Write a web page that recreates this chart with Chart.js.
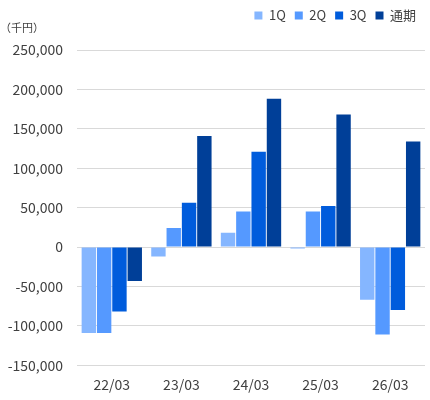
<!DOCTYPE html>
<html>
<head>
  <title>Chart</title>
  <script src="https://cdn.jsdelivr.net/npm/chart.js"></script>
  <style>
    html, body { margin: 0; padding: 0; background: #fff; }
    #wrap { width: 430px; height: 400px; }
  </style>
</head>
<body>
  <div id="wrap"><canvas id="chart"></canvas></div>
  <script>
    const labels = ['22/03', '23/03', '24/03', '25/03', '26/03'];
    const q1 = [-109000, -12000, 18000, -2000, -67000];
    const q2 = [-109000, 24000, 45000, 45000, -111000];
    const q3 = [-82000, 56000, 121000, 52000, -80000];
    const full = [-43000, 141000, 188000, 168000, 134000];
    const seriesNames = ['1Q', '2Q', '3Q', '通期'];
    const colors = ['#85B6FF', '#5599FF', '#005CDC', '#003F98'];

    const font = "'Noto Sans CJK JP', 'Noto Sans', sans-serif";

    const unitLabel = {
      id: 'unitLabel',
      afterDraw(chart) {
        const c = chart.ctx;
        c.save();
        c.font = '11px ' + font;
        c.fillStyle = '#404040';
        c.textBaseline = 'middle';
        c.fillText('（千円）', 0, 28);
        c.restore();
      }
    };

    // push the plot area down below the legend
    const legendGap = {
      id: 'legendGap',
      beforeInit(chart) {
        const fit = chart.legend.fit;
        chart.legend.fit = function () {
          fit.bind(chart.legend)();
          this.height += 18;
        };
      }
    };

    const ctx = document.getElementById('chart').getContext('2d');
    const chart = new Chart(ctx, {
      type: 'bar',
      data: {
        labels: labels,
        datasets: [q1, q2, q3, full].map((d, i) => ({
          label: seriesNames[i],
          data: d,
          backgroundColor: colors[i],
          categoryPercentage: 0.88,
          barPercentage: 0.94
        }))
      },
      options: {
        responsive: true,
        maintainAspectRatio: false,
        animation: false,
        layout: { padding: { left: 0, right: 5, top: 0, bottom: 4 } },
        plugins: {
          legend: {
            position: 'top',
            align: 'end',
            labels: {
              boxWidth: 8,
              boxHeight: 8,
              padding: 9,
              color: '#404040',
              font: { family: font, size: 13 }
            }
          },
          tooltip: { enabled: false }
        },
        scales: {
          x: {
            grid: { display: false },
            border: { display: false },
            ticks: { color: '#404040', font: { family: font, size: 14 }, padding: 3 }
          },
          y: {
            min: -150000,
            max: 250000,
            ticks: {
              stepSize: 50000,
              color: '#404040',
              padding: 14,
              font: { family: font, size: 14 },
              callback: v => v.toLocaleString('en-US')
            },
            grid: { color: '#D9D9D9', drawTicks: false },
            border: { display: false },
            afterFit(scale) { scale.width = 77; }
          }
        }
      },
      plugins: [unitLabel, legendGap]
    });
  </script>
</body>
</html>
